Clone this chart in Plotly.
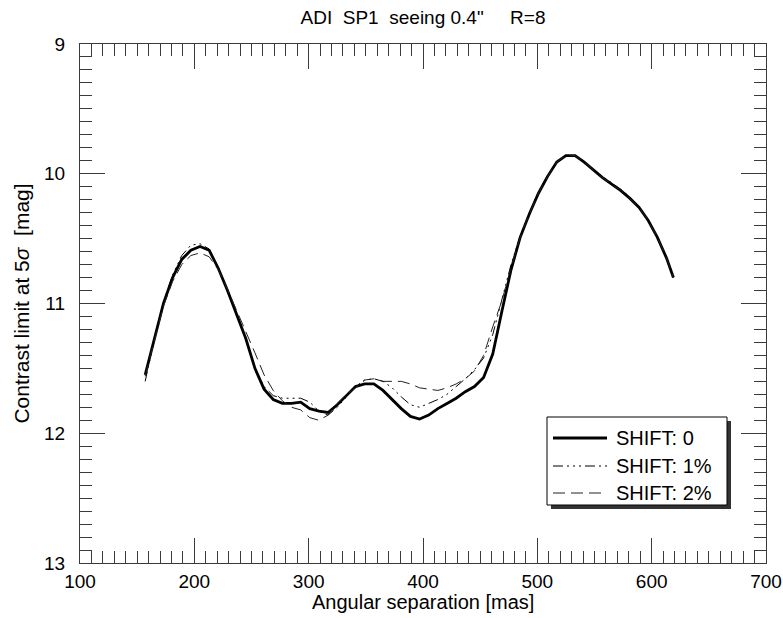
import plotly.graph_objects as go

sep = [157, 165, 173, 181, 189, 197, 205, 213, 221, 229, 237, 245, 253, 261, 269, 277,
       285, 293, 301, 309, 317, 325, 333, 341, 349, 357, 365, 373, 381, 389, 397, 405,
       413, 421, 429, 437, 445, 453, 461, 469, 477, 485, 493, 501, 509, 517, 525, 533,
       541, 549, 557, 565, 573, 581, 589, 597, 605, 613, 619]

shift0 = [11.55, 11.27, 11.00, 10.80, 10.66, 10.59, 10.56, 10.59, 10.73, 10.90, 11.08, 11.27,
          11.50, 11.66, 11.74, 11.77, 11.77, 11.76, 11.81, 11.83, 11.84, 11.78, 11.71, 11.64,
          11.62, 11.62, 11.67, 11.74, 11.81, 11.87, 11.89, 11.86, 11.81, 11.77, 11.73, 11.68,
          11.64, 11.57, 11.39, 11.06, 10.74, 10.49, 10.31, 10.15, 10.02, 9.91, 9.86, 9.86,
          9.91, 9.97, 10.03, 10.08, 10.13, 10.19, 10.26, 10.36, 10.49, 10.65, 10.80]

shift1 = [11.60, 11.28, 10.99, 10.78, 10.63, 10.55, 10.54, 10.58, 10.72, 10.90, 11.08, 11.28,
          11.50, 11.64, 11.71, 11.73, 11.73, 11.73, 11.76, 11.83, 11.86, 11.80, 11.72, 11.64,
          11.59, 11.58, 11.60, 11.65, 11.72, 11.78, 11.80, 11.77, 11.74, 11.70, 11.64, 11.58,
          11.51, 11.42, 11.24, 10.98, 10.70, 10.48, 10.30, 10.14, 10.01, 9.91, 9.86, 9.86,
          9.91, 9.97, 10.02, 10.07, 10.12, 10.18, 10.26, 10.36, 10.49, 10.65, 10.80]

shift2 = [11.56, 11.28, 11.02, 10.83, 10.70, 10.63, 10.61, 10.64, 10.74, 10.89, 11.05, 11.22,
          11.38, 11.55, 11.67, 11.75, 11.80, 11.82, 11.88, 11.90, 11.86, 11.77, 11.70, 11.65,
          11.59, 11.58, 11.60, 11.60, 11.60, 11.62, 11.65, 11.66, 11.67, 11.65, 11.62, 11.58,
          11.52, 11.40, 11.18, 10.98, 10.72, 10.49, 10.31, 10.15, 10.02, 9.91, 9.86, 9.86,
          9.91, 9.97, 10.03, 10.08, 10.13, 10.19, 10.26, 10.36, 10.49, 10.65, 10.80]

names = ["SHIFT: 0", "SHIFT: 1%", "SHIFT: 2%"]

FONT = "Liberation Sans, Arial, Helvetica, sans-serif"
AX = "#3a3a3a"

styles = [dict(color="black", width=2.8),
          dict(color="black", width=1, dash="10px,4px,2px,4px,2px,4px,2px,4px"),
          dict(color="#222", width=1, dash="12px,6px")]

fig = go.Figure()
for nm, ys, st in zip(names, [shift0, shift1, shift2], styles):
    fig.add_trace(go.Scatter(x=sep, y=ys, mode="lines", name=nm, line=st,
                             showlegend=False))

L, R, T, B = 80, 17, 44, 55
W, H = 783, 618
pw, ph = W - L - R, H - T - B


def px(xp):
    return (xp - L) / pw


def py(yp):
    return (H - B - yp) / ph


axis_common = dict(
    showline=True, linecolor=AX, linewidth=1.3, mirror="allticks",
    ticks="inside", tickcolor=AX, tickwidth=1.3, ticklen=25,
    showgrid=False, zeroline=False, automargin=False,
    tickfont=dict(family=FONT, size=19, color="black"),
    minor=dict(ticks="inside", ticklen=12, tickcolor=AX, tickwidth=1.3, showgrid=False),
)

fig.update_xaxes(range=[100, 700], dtick=100, tick0=100,
                 minor_dtick=10, ticklabelstandoff=1, **axis_common)
fig.update_yaxes(range=[13, 9], dtick=1, tick0=9, minor_dtick=0.1,
                 title=dict(text="Contrast limit at 5<i>σ</i>\u00a0\u00a0[mag]",
                            font=dict(family=FONT, size=21, color="black"), standoff=8),
                 ticklabelstandoff=10, **axis_common)

# x-axis title placed as annotation (sits closer to tick labels than Plotly allows)
fig.add_annotation(xref="paper", yref="paper", x=0.5, y=py(602),
                   xanchor="center", yanchor="middle", showarrow=False,
                   text="Angular separation [mas]",
                   font=dict(family=FONT, size=20, color="black"))

# custom legend: shadow, box, line keys and labels
bx0, bx1, by0, by1 = 547, 727, 417, 505
fig.add_shape(type="rect", xref="paper", yref="paper",
              x0=px(bx0 + 4), x1=px(bx1 + 4), y0=py(by1 + 4), y1=py(by0 + 4),
              fillcolor="#333", line=dict(width=0), layer="above")
fig.add_shape(type="rect", xref="paper", yref="paper",
              x0=px(bx0), x1=px(bx1), y0=py(by1), y1=py(by0),
              fillcolor="white", line=dict(color="black", width=1), layer="above")
rows = [438, 466, 493]
for nm, st, ry in zip(names, styles, rows):
    fig.add_shape(type="line", xref="paper", yref="paper",
                  x0=px(553), x1=px(607), y0=py(ry), y1=py(ry),
                  line=st, layer="above")
    fig.add_annotation(xref="paper", yref="paper", x=px(614), y=py(ry),
                       xanchor="left", yanchor="middle", showarrow=False,
                       text=nm, font=dict(family=FONT, size=20, color="black"))

fig.update_layout(
    width=W, height=H,
    margin=dict(l=L, r=R, t=T, b=B),
    paper_bgcolor="white", plot_bgcolor="white",
    title=dict(text="ADI\u00a0\u00a0SP1\u00a0\u00a0seeing 0.4\"\u00a0\u00a0\u00a0\u00a0\u00a0R=8",
               xref="paper", x=0.5, xanchor="center",
               yref="container", y=1 - 17 / H, yanchor="middle",
               font=dict(family=FONT, size=19, color="black")),
)

fig.write_html("out.html")
